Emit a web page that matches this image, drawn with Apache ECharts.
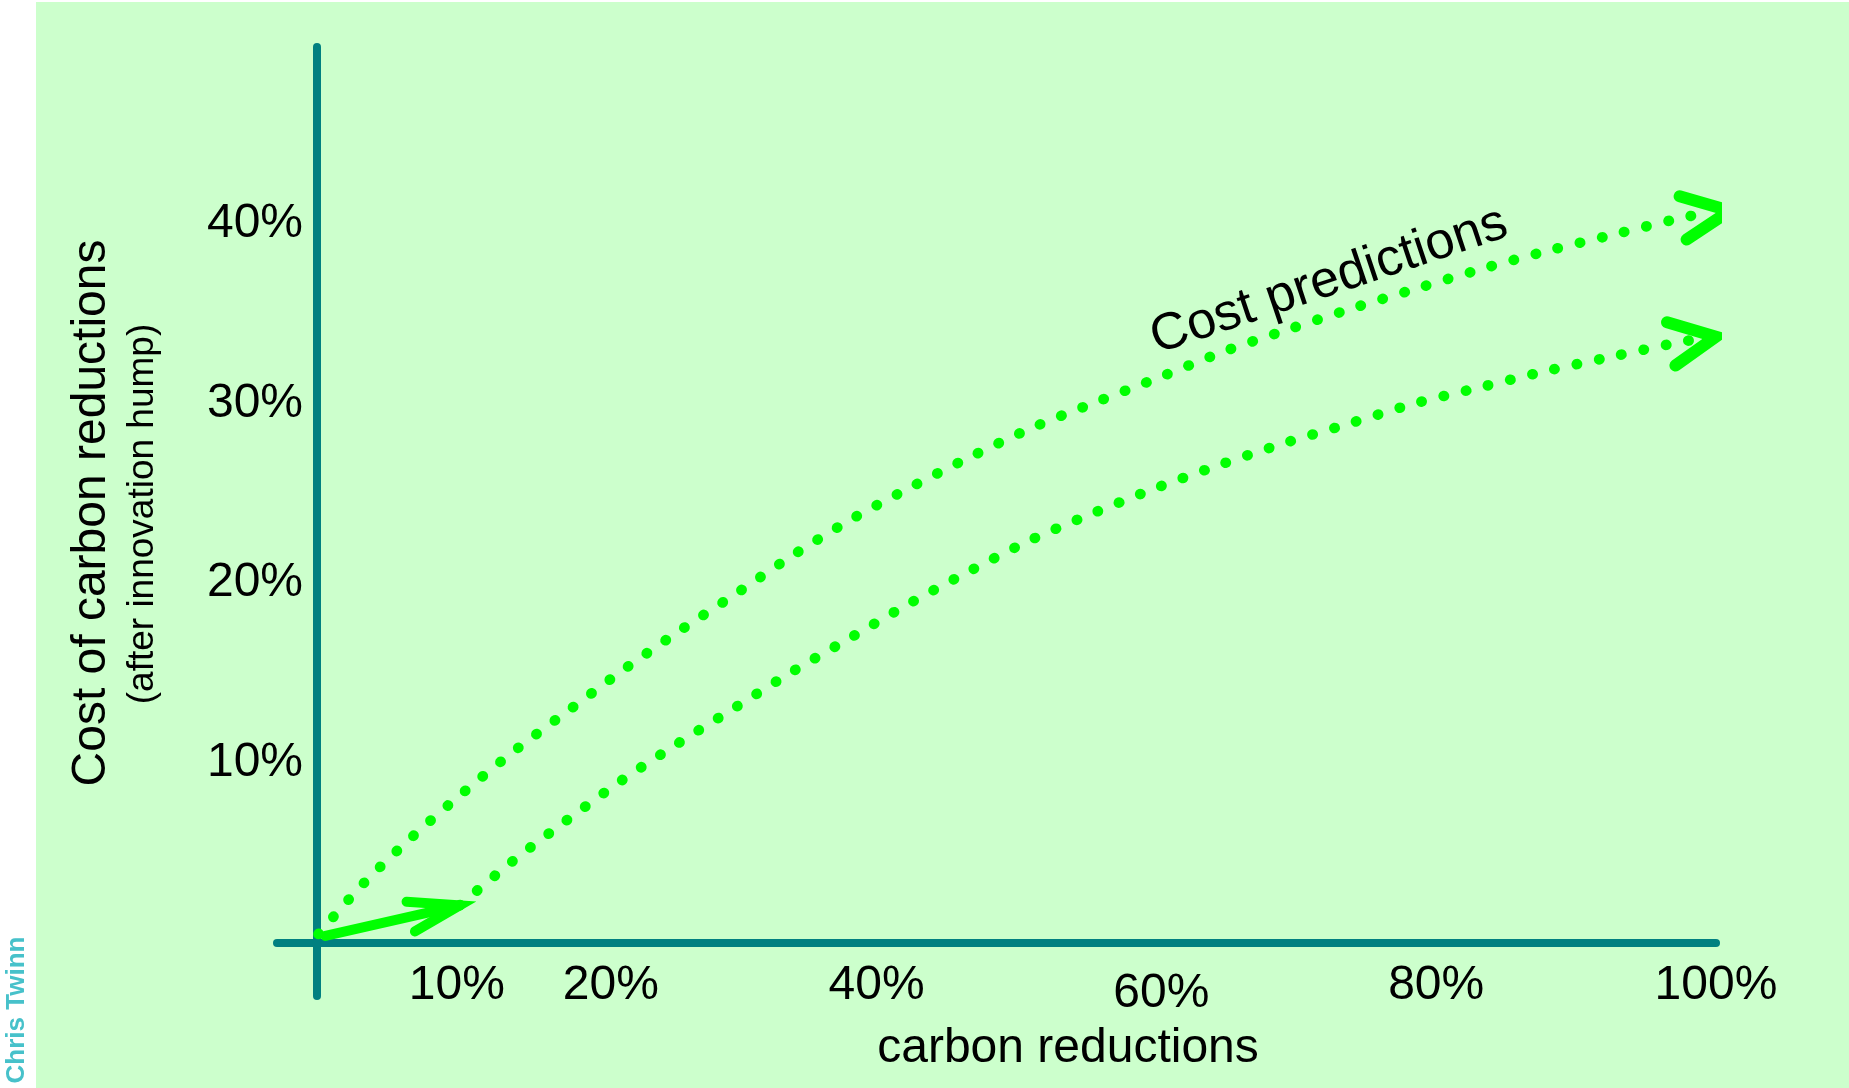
<!DOCTYPE html>
<html>
<head>
<meta charset="utf-8">
<style>
html,body{margin:0;padding:0;background:#ffffff;}
#chart{width:1849px;height:1088px;}
</style>
<script src="https://cdn.jsdelivr.net/npm/echarts@6/dist/echarts.min.js"></script>
</head>
<body>
<div id="chart"></div>
<script>
// ---- data (percent values) ----
const xTickValues = [10, 20, 40, 60, 80, 100];
const yTickValues = [10, 20, 30, 40];

const upperCurve = [
  [0.1, 0.5], [3.3, 3.3], [6.8, 5.9], [10.5, 8.4], [14.3, 10.8], [18.1, 13.0],
  [22.1, 15.3], [26.0, 17.4], [30.1, 19.5], [34.1, 21.6], [38.3, 23.6], [42.6, 25.4],
  [46.9, 27.1], [51.3, 28.7], [55.8, 30.1], [60.4, 31.5], [64.9, 32.9], [69.4, 34.1],
  [74.1, 35.3], [78.7, 36.4], [83.4, 37.5], [88.1, 38.5], [92.8, 39.4], [97.5, 40.3],
  [99.2, 40.55]
];
const lowerCurve = [
  [10.2, 2.1], [13.9, 4.5], [17.8, 6.8], [21.7, 9.0], [25.8, 11.1], [29.9, 13.1],
  [34.0, 15.1], [38.2, 17.0], [42.4, 18.9], [46.7, 20.7], [51.0, 22.4], [55.5, 23.9],
  [60.0, 25.3], [64.6, 26.6], [69.2, 27.8], [73.9, 28.9], [78.5, 30.0], [83.2, 30.9],
  [87.9, 31.8], [92.6, 32.6], [97.4, 33.4], [98.6, 33.55]
];
const startArrowShaft = [[0.6, 0.4], [10.2, 2.1]];
const startArrowHead = [[6.4, 2.3], [10.2, 2.1], [7.0, 0.65]];
const upperArrowHead = [[97.4, 41.5], [101.0, 40.7], [97.9, 39.1]];
const lowerArrowHead = [[96.5, 34.5], [100.0, 33.7], [97.1, 32.1]];

// ---- styling ----
const FONT = '"Liberation Sans", Arial, Helvetica, sans-serif';
const GREEN = '#00ff00';
const TEAL = '#008080';

function dotted(data) {
  return {
    type: 'line', data: data, smooth: 0.3, symbol: 'none', silent: true, clip: false,
    lineStyle: { color: GREEN, width: 10.5, type: [0.5, 22.3], cap: 'round', join: 'round' },
    z: 3
  };
}
function solid(data, width) {
  return {
    type: 'line', data: data, symbol: 'none', silent: true, clip: false,
    lineStyle: { color: GREEN, width: width, type: 'solid', cap: 'round', join: 'miter' },
    z: 4
  };
}

function txt(text, x, y, rot, size, opts) {
  opts = opts || {};
  return {
    type: 'text', x: x, y: y, rotation: rot, silent: true, z: 10,
    style: {
      text: text, fontSize: size, fontFamily: FONT, fontWeight: opts.weight || 'normal',
      fill: opts.color || '#000000',
      align: 'center', verticalAlign: 'middle',
      textAlign: 'center', textVerticalAlign: 'middle'
    }
  };
}

const chart = echarts.init(document.getElementById('chart'), null, { renderer: 'canvas' });
chart.setOption({
  animation: false,
  backgroundColor: '#ffffff',
  grid: { left: 277, right: 133, top: 47, bottom: 92, outerBoundsMode: 'none', containLabel: false },
  xAxis: {
    type: 'value', min: -2.86, max: 100,
    axisLine: { onZero: true, lineStyle: { color: TEAL, width: 8 } },
    axisTick: { show: false },
    splitLine: { show: false },
    axisLabel: {
      customValues: xTickValues,
      margin: -34, fontSize: 48, fontFamily: FONT, color: '#000000',
      formatter: function (v) {
        if (v === 20) return '{s|' + v + '%}';
        if (v === 60) return '{d|' + v + '%}';
        return v + '%';
      },
      rich: {
        s: { fontSize: 48, fontFamily: FONT, color: '#000000', padding: [0, 0, 0, 28] },
        d: { fontSize: 48, fontFamily: FONT, color: '#000000', padding: [8, 0, 0, 10] }
      }
    }
  },
  yAxis: {
    type: 'value', min: -2.94, max: 49.8,
    axisLine: { onZero: true, lineStyle: { color: TEAL, width: 8 } },
    axisTick: { show: false },
    splitLine: { show: false },
    axisLabel: {
      customValues: yTickValues,
      margin: -26, fontSize: 48, fontFamily: FONT, color: '#000000',
      formatter: function (v) { return v + '%'; }
    }
  },
  graphic: [
    { type: 'rect', z: -100, silent: true, shape: { x: 36, y: 2, width: 1813, height: 1086 }, style: { fill: '#ccffcc' } },
    txt('Cost of carbon reductions', 92, 513, Math.PI / 2, 48),
    txt('(after innovation hump)', 143, 514, Math.PI / 2, 37),
    txt('carbon reductions', 1068, 1049, 0, 48),
    txt('Cost predictions', 1329, 281, 18.5 * Math.PI / 180, 52),
    txt('Chris Twinn', 17, 1010, Math.PI / 2, 26, { weight: 'bold', color: '#47c1ca' })
  ],
  series: [
    dotted(upperCurve),
    dotted(lowerCurve),
    solid(startArrowShaft, 10),
    solid(startArrowHead, 10),
    solid(upperArrowHead, 12),
    solid(lowerArrowHead, 12)
  ]
});
</script>
</body>
</html>
